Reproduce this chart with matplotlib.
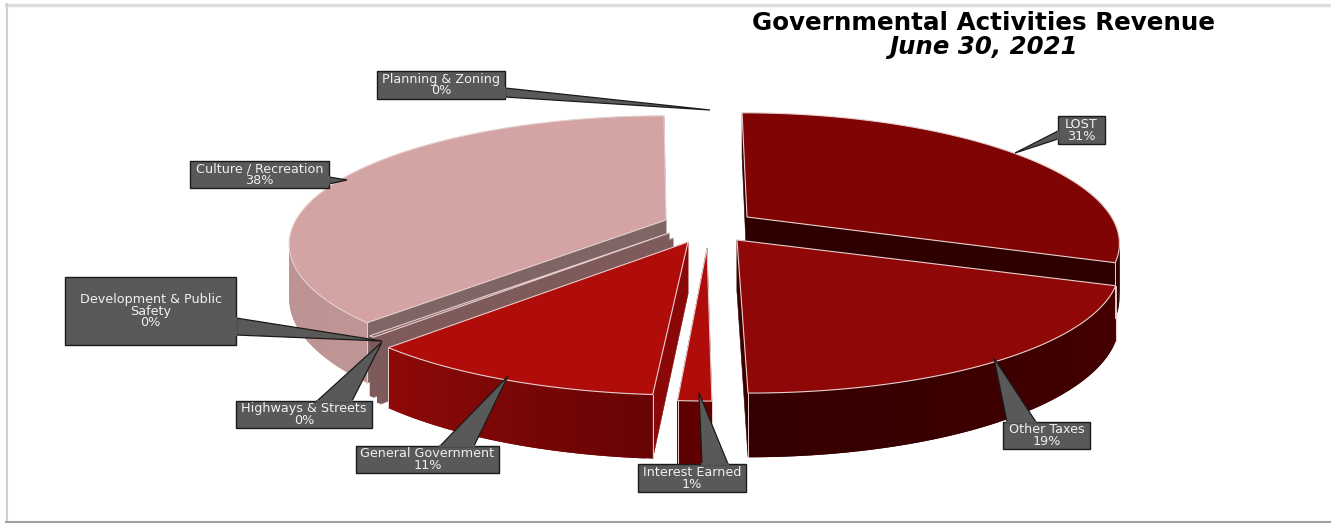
import numpy as np
import matplotlib
matplotlib.use("Agg")
from matplotlib import pyplot as plt
from matplotlib.colors import to_rgb
from matplotlib.patches import Polygon, Rectangle

# data (shares are slightly finer than the rounded labels)
categories = ["LOST", "Other Taxes", "Interest Earned", "General Government", "Highways & Streets",
              "Development & Public\nSafety", "Culture / Recreation", "Planning & Zoning"]
shares = [30.6, 19.4, 1.2, 10.7, 0.2, 0.2, 37.6, 0.1]
labels_pct = ["31%", "19%", "1%", "11%", "0%", "0%", "38%", "0%"]

# look of each slice: apex in pixels (exploded), lean and width of the perspective, colours
apex = [(747, 217), (737, 240), (707, 248), (688, 242), (673, 238), (669, 233), (666, 220), (706, 214)]
lean = [31, 47, 21, 0, 0, 0, 0, 0]
x_scale = [0.985, 1.01, 1.0, 1.025, 1.0, 1.0, 1.0, 1.0]
top_col = ["#800404", "#8F0807", "#B00C0A", "#B00C0A", "#846060", "#846060", "#D4A3A3", "#D4A3A3"]
cut_col = ["#2E0000", "#3A0000", "#5C0000", "#8A0808", "#7F5A5A", "#7F5A5A", "#806565", "#806565"]
wall_a = ["#300000", "#460000", "#640000", "#680404", "#7F5A5A", "#7F5A5A", "#BE9494", "#BE9494"]
wall_b = ["#300000", "#340000", "#5C0000", "#8E0A08", "#7F5A5A", "#7F5A5A", "#B88E8E", "#B88E8E"]
draw_order = [6, 4, 5, 0, 1, 3, 2]  # back to front, Planning is too thin to show

# callouts: box x0, y0, x1, y1, pointer base 1, pointer base 2, tip
boxes = [(1058, 116, 1105, 144), (1003, 422, 1090, 449), (638, 464, 746, 492), (356, 446, 499, 473),
         (236, 401, 372, 428), (65, 277, 236, 345), (190, 161, 329, 188), (377, 71, 505, 99)]
pointers = [((1058, 131), (1058, 139), (1015, 153)),
            ((1007, 422), (1036, 422), (994, 358)),
            ((702, 464), (728, 464), (699, 393)),
            ((440, 446), (474, 446), (508, 376)),
            ((317, 401), (352, 401), (382, 342)),
            ((236, 318), (236, 335), (382, 341)),
            ((329, 177), (329, 184), (347, 180)),
            ((505, 88), (505, 97), (710, 110))]

A, B, K = 370.0, 124.0, 0.19  # disc half axes and perspective
DEPTH = 52.0


def project(center, theta, lean_x, sx):
    u, v = np.sin(theta), np.cos(theta)
    s = 1 / (1 + K * v)
    return center[0] + A * sx * u * s + lean_x * (s - 1), center[1] - B * v * s, DEPTH * s


def draw_slice(ax, center, a0, a1, lean_x, sx, top, cut, c0, c1):
    n = max(int((a1 - a0) / 1.0) + 2, 3)
    th = np.radians(np.linspace(a0, a1, n))
    x, y, d = project(center, th, lean_x, sx)
    edge = "#E6CFCF"
    # cut faces
    for i in (0, -1):
        face = [center, (x[i], y[i]), (x[i], y[i] + d[i]), (center[0], center[1] + DEPTH)]
        ax.add_patch(Polygon(face, fc=cut, ec=cut, lw=0.4))
    # outer wall, strips overlap the next one so no seams show
    c0, c1 = np.array(to_rgb(c0)), np.array(to_rgb(c1))
    for i in range(n - 1):
        if np.cos(th[i]) > 0.2 and np.cos(th[i + 1]) > 0.2:
            continue  # back of the pie, hidden by the top
        j = min(i + 2, n - 1)
        f = i / max(n - 2, 1)
        c = tuple(c0 + (c1 - c0) * f)
        strip = [(x[i], y[i]), (x[j], y[j]), (x[j], y[j] + d[j]), (x[i], y[i] + d[i])]
        ax.add_patch(Polygon(strip, fc=c, ec="none"))
    if a1 - a0 > 2:
        for i in (0, -1):
            if np.cos(th[i]) < 0.2:
                ax.plot([x[i], x[i]], [y[i], y[i] + d[i]], color=edge, lw=0.7)
    # top
    pts = [center] + list(zip(x, y))
    ax.add_patch(Polygon(pts, closed=True, fc=top, ec=edge, lw=0.8, joinstyle="miter"))


fig = plt.figure(figsize=(13.31, 5.23), dpi=100)
ax = fig.add_axes([0, 0, 1, 1])
ax.set_xlim(0, 1331)
ax.set_ylim(523, 0)
ax.axis("off")

# frame
ax.plot([6, 1331], [4.5, 4.5], color="#DDDDDD", lw=2.5)
ax.plot([6.5, 6.5], [4, 522], color="#D0D0D0", lw=1.5)
ax.plot([6, 1331], [522, 522], color="#A0A0A0", lw=1.5)

ends = np.cumsum(shares) * 3.6
starts = np.concatenate([[0.0], ends[:-1]])
for i in draw_order:
    draw_slice(ax, apex[i], starts[i], ends[i], lean[i], x_scale[i], top_col[i], cut_col[i], wall_a[i], wall_b[i])

for i, name in enumerate(categories):
    x0, y0, x1, y1 = boxes[i]
    ax.add_patch(Polygon(pointers[i], fc="#595959", ec="#1A1A1A", lw=0.9, zorder=5))
    ax.add_patch(Rectangle((x0, y0), x1 - x0, y1 - y0, fc="#595959", ec="#1A1A1A", lw=1.0, zorder=6))
    # hide the pointer base line inside the box edge
    ax.plot([pointers[i][0][0], pointers[i][1][0]], [pointers[i][0][1], pointers[i][1][1]],
            color="#595959", lw=1.4, zorder=7)
    ax.text((x0 + x1) / 2, (y0 + y1) / 2, name + "\n" + labels_pct[i], color="#F0F0F0", fontsize=9.2,
            ha="center", va="center", linespacing=0.9, zorder=8, family="DejaVu Sans")

ax.text(983, 22.5, "Governmental Activities Revenue", fontsize=17.7, fontweight="bold", color="black",
        ha="center", va="center", family="DejaVu Sans")
ax.text(983, 47, "June 30, 2021", fontsize=17.6, fontstyle="italic", fontweight="bold", color="black",
        ha="center", va="center", family="DejaVu Sans")

fig.savefig("out.png", dpi=100, facecolor="white")
